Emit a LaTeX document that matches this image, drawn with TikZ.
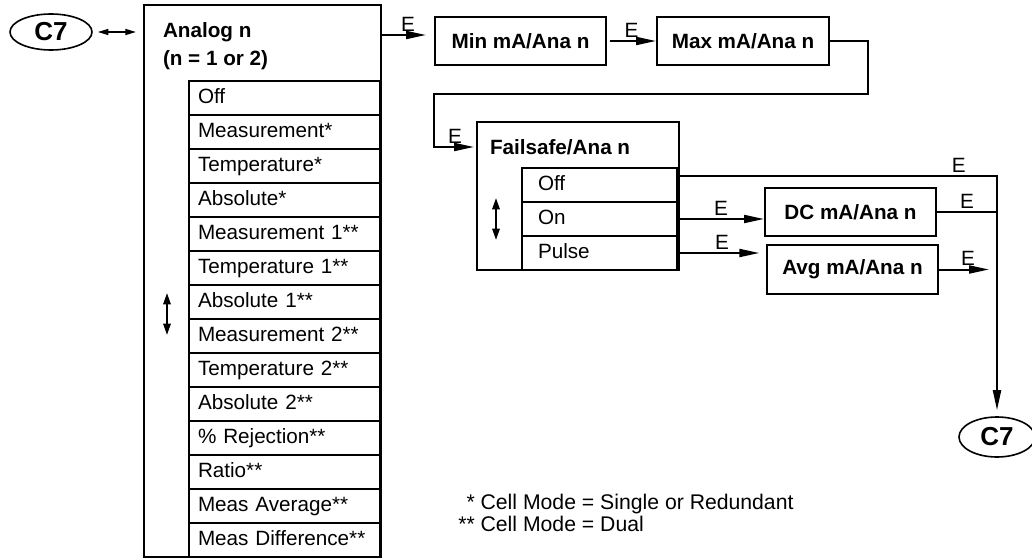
\documentclass[tikz,border=0pt]{standalone}
\usepackage{fontspec}
\setmainfont{Liberation Sans}
\usetikzlibrary{shapes.geometric, arrows.meta, calc}

\begin{document}
\begin{tikzpicture}[x=0.75pt, y=-0.75pt,
        box/.style={draw, line width=1.5pt, inner sep=0pt, font=\fontsize{15.5}{21}\selectfont\bfseries},
        conn/.style={draw, ellipse, line width=1.2pt, inner sep=0pt, font=\fontsize{19.5}{22}\selectfont\bfseries},
        menurow/.style={draw, line width=1.2pt, minimum height=25.5pt, inner ysep=0pt, align=left,
            text height=11.5pt, text depth=3.5pt, font=\fontsize{15.5}{18}\selectfont},
        anarow/.style={menurow, text width=129.75pt, inner xsep=6.75pt},
        fsrow/.style={menurow, text width=92.25pt, inner xsep=12pt},
        lbl/.style={font=\fontsize{15.5}{18}\selectfont, above, inner sep=2pt},
        msg/.style={draw, line width=1.5pt, -{Triangle[length=15pt,width=6pt]}},
        lin/.style={draw, line width=1.5pt},
        updn/.style={draw, line width=1.5pt, {Triangle[length=8.5pt,width=5.5pt]}-{Triangle[length=8.5pt,width=5.5pt]}}
        ]
        \useasboundingbox (0,0) rectangle (1032,560);

        %% C7 connectors
        \node[conn, minimum width=61.5pt, minimum height=27pt] (C7a) at (51,32)  {C7};
        \node[conn, minimum width=57pt, minimum height=30pt]   (C7b) at (997,437) {C7};

        %% Analog n menu
        \node[box, minimum width=177.75pt, minimum height=414pt] (AN) at (262.5,281) {};
        \node[box, draw=none, anchor=west, align=left] (ANt) at (162,46) {Analog n\\(n = 1 or 2)};
        \node[anarow] (A1)  at (284.5,98)  {Off};
        \node[anarow] (A2)  at (284.5,132) {Measurement*};
        \node[anarow] (A3)  at (284.5,166) {Temperature*};
        \node[anarow] (A4)  at (284.5,200) {Absolute*};
        \node[anarow] (A5)  at (284.5,234) {Measurement 1**};
        \node[anarow] (A6)  at (284.5,268) {Temperature 1**};
        \node[anarow] (A7)  at (284.5,302) {Absolute 1**};
        \node[anarow] (A8)  at (284.5,336) {Measurement 2**};
        \node[anarow] (A9)  at (284.5,370) {Temperature 2**};
        \node[anarow] (A10) at (284.5,404) {Absolute 2**};
        \node[anarow] (A11) at (284.5,438) {\% Rejection**};
        \node[anarow] (A12) at (284.5,472) {Ratio**};
        \node[anarow] (A13) at (284.5,506) {Meas Average**};
        \node[anarow] (A14) at (284.5,540) {Meas Difference**};
        \draw[updn] (167,293) -- (167,335);

        %% mA settings
        \node[box, minimum width=128.25pt, minimum height=36pt] (MIN) at (520.5,41) {Min mA/Ana n};
        \node[box, minimum width=129pt, minimum height=36pt]    (MAX) at (743,41)   {Max mA/Ana n};

        %% Failsafe menu
        \node[box, minimum width=151.5pt, minimum height=111pt] (FS) at (578,196) {};
        \node[box, draw=none, anchor=west] (FSt) at (489,147) {Failsafe/Ana n};
        \node[fsrow] (F1) at (599.5,185) {Off};
        \node[fsrow] (F2) at (599.5,219) {On};
        \node[fsrow] (F3) at (599.5,253) {Pulse};
        \draw[updn] (496,198) -- (496,240);

        \node[box, minimum width=128.25pt, minimum height=36pt]    (DC)  at (850.5,212) {DC mA/Ana n};
        \node[box, minimum width=128.25pt, minimum height=36.75pt] (AVG) at (852.5,269.5) {Avg mA/Ana n};

        %% Footnote
        \node[anchor=west, align=left, inner sep=0pt, font=\fontsize{15.9}{16.5}\selectfont] (note) at (458,513)
            {\phantom{*}* Cell Mode = Single or Redundant\\** Cell Mode = Dual};

        %% Connections
        \draw[line width=1.2pt, {Triangle[length=8pt,width=4.5pt]}-{Triangle[length=8pt,width=4.5pt]},
            shorten <=3.75pt, shorten >=5.25pt] (C7a) -- (C7a -| AN.west);
        \draw[msg, shorten >=6pt] ($(AN.east |- MIN.west)+(0,-6)$) -- node[lbl]{E} ($(MIN.west)+(0,-6)$);
        \draw[msg, shorten <=2pt] (MIN) -- node[lbl]{E} (MAX);
        \coordinate (turn) at ($(MIN.south west)+(0,28)$);
        \draw[msg, shorten >=1.5pt] (MAX.east) -- ++(38,0) |- (turn) |- node[lbl, pos=0.75]{E} (FS.west |- FSt);

        \draw[msg, shorten >=4.5pt] ($(F1.east)+(0,-9)$) -| node[lbl, pos=0.44]{E} (C7b);
        \draw[msg] (F2.east) -- node[lbl]{E} (F2.east -| DC.west);
        \draw[lin] (DC.east) -- node[lbl]{E} (DC.east -| C7b);
        \draw[msg, shorten >=5pt] (F3.east) -- node[lbl]{E} (F3.east -| AVG.west);
        \draw[msg, shorten >=6pt] (AVG.east) -- node[lbl]{E} (AVG.east -| C7b);

\end{tikzpicture}
\end{document}
